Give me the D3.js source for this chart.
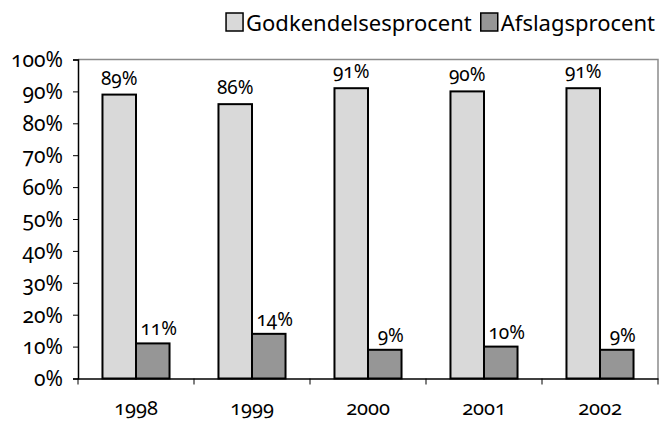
<!DOCTYPE html>
<html>
<head>
<meta charset="utf-8">
<script src="https://cdn.jsdelivr.net/npm/d3@7"></script>
<style>
  body { margin: 0; background: #fff; }
  svg text { font-family: "Noto Sans", sans-serif; font-variant-numeric: oldstyle-nums; fill: #000; }
</style>
</head>
<body>
<svg id="chart" width="660" height="423"></svg>
<script>
const years = ["1998", "1999", "2000", "2001", "2002"];
const approved = [89, 86, 91, 90, 91]; // Godkendelsesprocent
const rejected = [11, 14, 9, 10, 9]; // Afslagsprocent
const seriesNames = ["Godkendelsesprocent", "Afslagsprocent"];
const yTicks = [0, 10, 20, 30, 40, 50, 60, 70, 80, 90, 100];

const colors = ["#d9d9d9", "#969696"];

const margin = { top: 59.5, right: 2, bottom: 44.5, left: 78 },
  width = 660,
  height = 423,
  innerWidth = width - margin.left - margin.right,
  innerHeight = height - margin.top - margin.bottom;

const svg = d3.select("#chart");
const g = svg.append("g").attr("transform", `translate(${margin.left},${margin.top})`);

const x = d3.scaleBand().domain(years).range([0, innerWidth]);
// two bars per year, ~34px each, centred in the band
const xSub = d3.scaleBand().domain([0, 1]).range([0, x.bandwidth()]).paddingInner(0).paddingOuter(0.73);
const y = d3.scaleLinear().domain([0, 100]).range([innerHeight, 0]);

// plot area border (top + right)
g.append("path")
  .attr("d", `M0,0H${innerWidth}V${innerHeight}`)
  .attr("fill", "none")
  .attr("stroke", "#8c8c8c")
  .attr("stroke-width", 1.5);

// bars
const data = years.map((yr, i) => ({ year: yr, vals: [approved[i], rejected[i]] }));
const groups = g.selectAll(".grp").data(data).join("g")
  .attr("class", "grp")
  .attr("transform", (d) => `translate(${x(d.year)},0)`);

groups.selectAll("rect")
  .data((d) => d.vals.map((v, k) => ({ v, k })))
  .join("rect")
  .attr("x", (d) => xSub(d.k))
  .attr("y", (d) => y(d.v))
  .attr("width", xSub.bandwidth())
  .attr("height", (d) => innerHeight - y(d.v))
  .attr("fill", (d) => colors[d.k])
  .attr("stroke", "#000")
  .attr("stroke-width", 2);

// value labels
groups.selectAll(".lbl")
  .data((d) => d.vals.map((v, k) => ({ v, k })))
  .join("text")
  .attr("class", "lbl")
  .attr("x", (d) => xSub(d.k) + xSub.bandwidth() / 2 + (d.k === 1 ? 6 : 0))
  .attr("y", (d) => y(d.v) - (d.k === 0 ? 10 : 8))
  .attr("text-anchor", "middle")
  .attr("font-size", 19)
  .text((d) => d.v + "%");

// y axis
const yAxis = g.append("g")
  .call(d3.axisLeft(y).tickValues(yTicks).tickSize(5).tickFormat((d) => d + "%"));
yAxis.select(".domain").attr("stroke", "#000").attr("stroke-width", 1.5);
yAxis.selectAll(".tick line").attr("stroke", "#000");
yAxis.selectAll(".tick text").attr("font-size", 21).attr("x", -15).attr("dy", "0.35em");

// x axis
const xAxis = g.append("g").attr("transform", `translate(0,${innerHeight})`)
  .call(d3.axisBottom(x).tickSize(0).tickSizeOuter(0));
xAxis.select(".domain").attr("stroke", "#000").attr("stroke-width", 1.5);
xAxis.selectAll(".tick text").attr("font-size", 20).attr("y", 36).attr("dy", 0);
xAxis.selectAll(".sep").data(years.concat(["end"])).join("line")
  .attr("class", "sep")
  .attr("x1", (d, i) => i * x.step())
  .attr("x2", (d, i) => i * x.step())
  .attr("y1", 0).attr("y2", 6)
  .attr("stroke", "#000");

// legend - laid out from measured text widths, right edge at ~655
const legend = svg.append("g");
let cursor = 0;
seriesNames.forEach((name, i) => {
  const lg = legend.append("g").attr("transform", `translate(${cursor},0)`);
  lg.append("rect").attr("x", 1).attr("y", 1).attr("width", 17).attr("height", 18)
    .attr("fill", colors[i]).attr("stroke", "#000").attr("stroke-width", 1.5);
  const t = lg.append("text").attr("x", 21).attr("y", 19).attr("font-size", 22).text(name);
  const w = t.node().getComputedTextLength();
  cursor += 21 + w + (i < seriesNames.length - 1 ? 8 : 0);
});
legend.attr("transform", `translate(${655 - cursor},12)`);
</script>
</body>
</html>
